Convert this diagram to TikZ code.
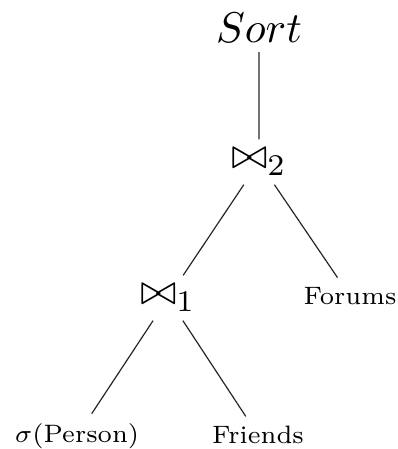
\documentclass[tikz,border=0pt]{standalone}
\usetikzlibrary{positioning}

\begin{document}
\begin{tikzpicture}[
    x=1pt, y=1pt,
    node distance=136pt and 91pt, on grid, % jarak antar pusat node
    % Gaya untuk operator dan relasi
    op/.style={inner sep=2pt, scale=4.3},
    rel/.style={inner sep=2.5pt, scale=3.6, font=\scriptsize},
    % Gaya untuk garis pohon
    link/.style={line width=1.2pt, draw=black!85}
]
\useasboundingbox (0,0) rectangle (397,449);

% Menempatkan Nodes
\node (sort) [op] at (259,421) {$Sort$};
\node (join2) [op, below=134pt of sort] {$\bowtie_2$};
\node (join1) [op, below left=of join2] {$\bowtie_1$};
\node (forums) [rel, below right=134pt and 91pt of join2] {Forums};
\node (person) [rel, below left=138pt and 91pt of join1] {$\sigma$(Person)};
\node (friends) [rel, below right=137pt and 90pt of join1] {Friends};

% Menghubungkan Nodes
\draw [link] (sort) -- (join2);
\draw [link] (join2) -- (join1);
\draw [link] (join2) -- (forums);
\draw [link] (join1) -- (person);
\draw [link] (join1) -- (friends);

\end{tikzpicture}
\end{document}
